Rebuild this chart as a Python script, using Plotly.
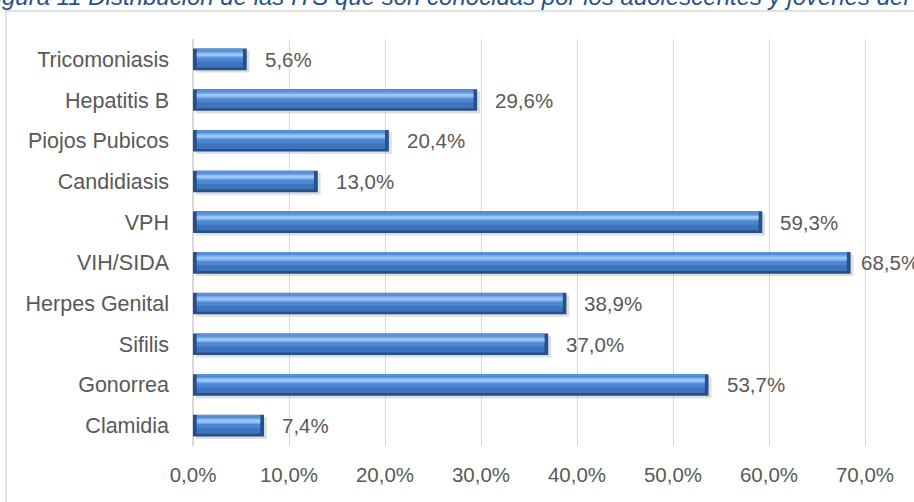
import plotly.graph_objects as go

# Infecciones de transmisión sexual conocidas (de arriba hacia abajo)
categorias = ["Tricomoniasis", "Hepatitis B", "Piojos Pubicos", "Candidiasis", "VPH",
              "VIH/SIDA", "Herpes Genital", "Sifilis", "Gonorrea", "Clamidia"]
porcentajes = [5.6, 29.6, 20.4, 13.0, 59.3, 68.5, 38.9, 37.0, 53.7, 7.4]
ticks_x = [0, 10, 20, 30, 40, 50, 60, 70]
titulo = "Figura 11 Distribución de las ITS que son conocidas por los adolescentes y jóvenes del recinto"

W, H = 914, 502
ML, MR, MT, MB = 193, 1, 39, 56
PW, PH = W - ML - MR, H - MT - MB
XMAX = 0.75

FONT = "Liberation Sans, Arial, sans-serif"
GRIS = "#595959"

# plotly dibuja la primera categoría abajo: invertimos para que Tricomoniasis quede arriba
cats = categorias[::-1]
vals = [v / 100 for v in porcentajes[::-1]]


def px_x(px):
    return (px - ML) / PW


def px_y(py):
    return 1 - (py - MT) / PH


fig = go.Figure()

h = 0.53
bevel = 0.004
layers = [
    # (offset, width, color, inset)
    (-h / 2 - 0.06, h, "rgba(70,70,70,0.18)", -0.003),   # sombra
    (-h / 2, h, "#284F88", 0.0),                          # borde oscuro
    (-0.20, 0.44, "#3E74BE", bevel),                      # cuerpo inferior
    (-0.06, 0.30, "#4C87D3", bevel),                      # cuerpo
    (0.04, 0.15, "#73A8EA", bevel),                       # brillo superior
    (0.08, 0.07, "#9CC6F4", bevel),                       # reflejo
    (0.22, 0.04, "#5A90D8", bevel),                       # arista superior
]
for off, wd, col, inset in layers:
    if inset < 0:
        base = [-inset] * len(vals)
        xs = vals
    else:
        base = [inset] * len(vals)
        xs = [max(v - 2 * inset, 0) for v in vals]
    fig.add_trace(go.Bar(
        y=cats, x=xs, base=base, orientation="h",
        offset=off, width=wd,
        marker=dict(color=col, line=dict(width=0)),
        hoverinfo="skip", showlegend=False,
    ))

# etiquetas de valor
for c, v in zip(cats, vals):
    end_px = ML + v / XMAX * PW
    shift = min(16, (W - 55) - end_px)
    fig.add_annotation(
        x=v, y=c, xref="x", yref="y",
        text=f"{v * 100:.1f}%".replace(".", ","),
        showarrow=False, xanchor="left", yanchor="middle", xshift=shift,
        font=dict(family=FONT, size=20.5, color=GRIS),
    )

# título (cortado por el borde superior)
fig.add_annotation(
    x=px_x(-20), y=px_y(-4), xref="paper", yref="paper",
    text=f"<i>{titulo}</i>", showarrow=False,
    xanchor="left", yanchor="middle",
    font=dict(family=FONT, size=24, color="#25528C"),
)

# marco del gráfico
fig.add_shape(
    type="rect", xref="paper", yref="paper",
    x0=px_x(6), x1=px_x(940), y0=px_y(11), y1=px_y(530),
    line=dict(color="#D9D9D9", width=1.5), fillcolor="rgba(0,0,0,0)", layer="below",
)

fig.update_layout(
    width=W, height=H,
    margin=dict(l=ML, r=MR, t=MT, b=MB, pad=0),
    paper_bgcolor="white", plot_bgcolor="white",
    barmode="overlay",
    separators=",.",
    font=dict(family=FONT, size=20.5, color=GRIS),
    xaxis=dict(
        range=[0, XMAX], tickvals=[t / 100 for t in ticks_x],
        tickformat=".1%", showgrid=True, gridcolor="#D9D9D9", gridwidth=1.3,
        zeroline=True, zerolinecolor="#D9D9D9", zerolinewidth=2,
        showline=False, ticks="", ticklabelstandoff=14,
        tickfont=dict(family=FONT, size=20.5, color=GRIS),
    ),
    yaxis=dict(
        categoryorder="array", categoryarray=cats,
        showgrid=False, zeroline=False, showline=False, ticks="",
        ticklabelstandoff=23,
        tickfont=dict(family=FONT, size=21.5, color=GRIS),
    ),
)

fig.write_html("out.html")
